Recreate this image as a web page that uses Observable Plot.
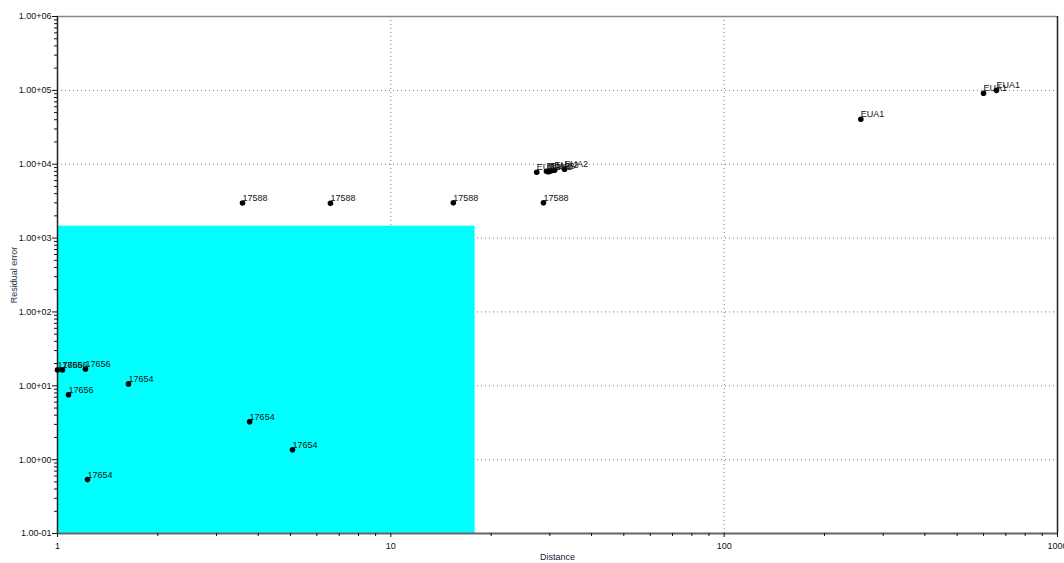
<!DOCTYPE html>
<html>
<head>
<meta charset="utf-8">
<script src="https://cdn.jsdelivr.net/npm/d3@7"></script>
<script src="https://cdn.jsdelivr.net/npm/@observablehq/plot@0.6"></script>
<style>
  html, body { margin: 0; padding: 0; background: #fff; }
  #chart { width: 1064px; height: 563px; }
  svg { font-family: "Liberation Sans", Arial, sans-serif; }
</style>
</head>
<body>
<div id="chart"></div>
<script>
// Data
const distance = [3.59, 6.59, 15.4, 28.7, 27.4, 29.3, 29.7, 30.2, 31.0, 33.2, 257, 600, 656, 1.0, 1.035, 1.213, 1.079, 1.633, 3.77, 5.07, 1.23];
const residual = [2980, 2950, 3000, 3000, 7800, 8000, 7900, 8100, 8300, 8550, 40600, 91400, 100000, 16.4, 16.4, 16.9, 7.55, 10.6, 3.26, 1.36, 0.537];
const labels = ["17588", "17588", "17588", "17588", "EUA2", "EUA2", "EUA2", "EUA2", "EUA2", "EUA2", "EUA1", "EUA1", "EUA1", "17656", "17656", "17656", "17656", "17654", "17654", "17654", "17654"];

// Highlighted region
const regionX = [1, 17.9];
const regionY = [0.1, 1450];

// Axis ticks
const xMajor = [1, 10, 100, 1000];
const yMajor = [0.1, 1, 10, 100, 1000, 10000, 100000, 1000000];
const xMinor = [];
for (const d of [1, 10, 100]) for (let k = 2; k <= 9; k++) xMinor.push(d * k);
const yMinor = [];
for (const d of [0.1, 1, 10, 100, 1000, 10000, 100000]) for (let k = 2; k <= 9; k++) yMinor.push(d * k);

const points = distance.map((d, i) => ({x: d, y: residual[i], label: labels[i]}));

const fmtY = v => {
  const e = Math.round(Math.log10(v));
  return "1.00" + (e >= 0 ? "+" : "-") + String(Math.abs(e)).padStart(2, "0");
};

const chart = Plot.plot({
  width: 1064,
  height: 563,
  marginLeft: 57,
  marginRight: 7,
  marginTop: 16,
  marginBottom: 30,
  style: {fontSize: "9px", color: "#111", background: "#fff"},
  x: {type: "log", domain: [1, 1000], label: null},
  y: {type: "log", domain: [0.1, 1000000], label: null},
  marks: [
    Plot.gridX(xMajor.slice(1, 3), {stroke: "#777", strokeOpacity: 1, strokeDasharray: "1,3"}),
    Plot.gridY(yMajor.slice(1, 7), {stroke: "#777", strokeOpacity: 1, strokeDasharray: "1,3"}),
    Plot.rect([{x1: regionX[0], x2: regionX[1], y1: regionY[0], y2: regionY[1]}],
      {x1: "x1", x2: "x2", y1: "y1", y2: "y2", fill: "#00ffff"}),
    Plot.ruleY([1000000], {stroke: "#888", strokeWidth: 1.5}),
    Plot.ruleX([1000], {stroke: "#222", strokeWidth: 1.5}),
    Plot.ruleY([0.1], {stroke: "#666", strokeWidth: 2}),
    Plot.ruleX([1], {stroke: "#222", strokeWidth: 1.5}),
    Plot.axisY(yMajor, {tickSize: 5, tickPadding: 1, tickFormat: fmtY, fontSize: 9, label: null}),
    Plot.axisY(yMinor, {tickSize: 3, tickFormat: () => "", label: null}),
    Plot.axisX(xMajor, {tickSize: 4, tickPadding: 5, tickFormat: d => String(d), fontSize: 9, label: null}),
    Plot.axisX(xMinor, {tickSize: 3, tickFormat: () => "", label: null}),
    Plot.dot(points, {x: "x", y: "y", r: 2.8, fill: "#000", stroke: "none"}),
    Plot.text(points, {x: "x", y: "y", text: "label", textAnchor: "start", lineAnchor: "bottom", dx: 0, dy: -2, fontSize: 9, fill: "#111"}),
    Plot.text(["Distance"], {frameAnchor: "bottom", dy: 26, fontSize: 9, fill: "#223"}),
    Plot.text(["Residual error"], {frameAnchor: "left", textAnchor: "middle", dx: -43, rotate: -90, fontSize: 9, fill: "#1f3550"})
  ]
});
document.getElementById("chart").appendChild(chart);
</script>
</body>
</html>
